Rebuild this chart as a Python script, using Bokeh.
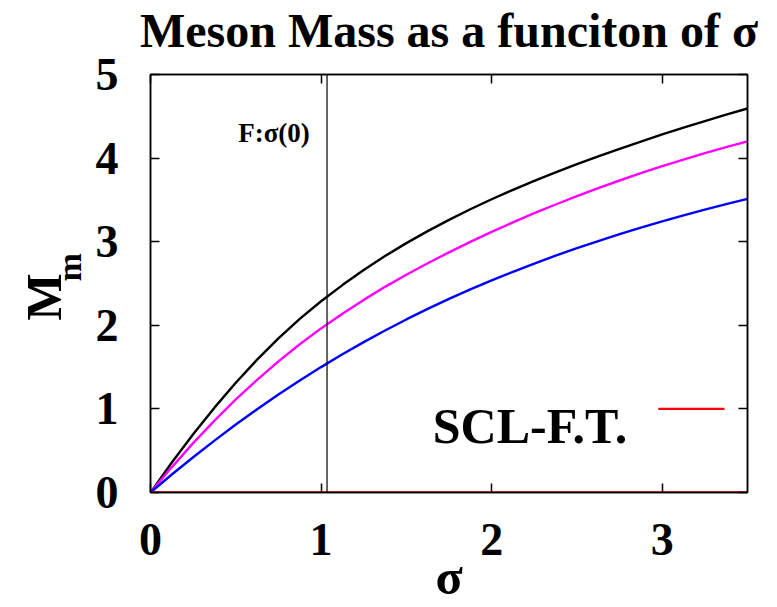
from bokeh.plotting import figure
from bokeh.models import Range1d, LinearAxis, Label, FixedTicker, Span, Title
from bokeh.embed import file_html
from bokeh.resources import INLINE

sigma = [0.0, 0.125, 0.25, 0.375, 0.5, 0.625, 0.75, 0.875, 1.0, 1.125, 1.25, 1.375, 1.5, 1.625,
         1.75, 1.875, 2.0, 2.125, 2.25, 2.375, 2.5, 2.625, 2.75, 2.875, 3.0, 3.125, 3.25, 3.375, 3.5]
m_black = [0.0, 0.359, 0.697, 1.015, 1.313, 1.589, 1.844, 2.077, 2.288, 2.481, 2.661, 2.828, 2.983,
           3.126, 3.261, 3.388, 3.508, 3.620, 3.728, 3.830, 3.928, 4.021, 4.111, 4.198, 4.283,
           4.364, 4.443, 4.519, 4.593]
m_magenta = [0.0, 0.304, 0.591, 0.860, 1.113, 1.348, 1.569, 1.773, 1.963, 2.139, 2.304, 2.460, 2.605,
             2.742, 2.873, 2.998, 3.118, 3.231, 3.341, 3.445, 3.545, 3.641, 3.732, 3.819, 3.903,
             3.982, 4.059, 4.132, 4.200]
m_blue = [0.0, 0.215, 0.422, 0.621, 0.813, 0.996, 1.172, 1.340, 1.500, 1.653, 1.799, 1.938, 2.070,
          2.196, 2.316, 2.430, 2.538, 2.640, 2.739, 2.833, 2.923, 3.008, 3.090, 3.168, 3.243,
          3.314, 3.383, 3.449, 3.513]
scl_ft = [0.0] * len(sigma)
sigma0 = 1.035
legend_key_x = [2.977, 3.365]
legend_key_y = [1.0, 1.0]

x_ticks = [0, 1, 2, 3]
y_ticks = [0, 1, 2, 3, 4, 5]

FONT = "Liberation Serif"

p = figure(width=777, height=607, output_backend="svg", toolbar_location=None,
           x_range=Range1d(0, 3.5), y_range=Range1d(0, 5),
           min_border_left=150, min_border_right=30, min_border_top=73, min_border_bottom=115,
           background_fill_color="white", border_fill_color="white")
p.grid.visible = False
p.outline_line_color = "black"
p.outline_line_width = 1.5

for ax, ticks in ((p.xaxis[0], x_ticks), (p.yaxis[0], y_ticks)):
    ax.ticker = FixedTicker(ticks=ticks)
    ax.major_tick_in = 9
    ax.major_tick_out = 0
    ax.minor_tick_line_color = None
    ax.axis_line_color = "black"
    ax.axis_line_width = 1.5
    ax.major_tick_line_width = 1.5
    ax.major_label_text_font = FONT
    ax.major_label_text_font_style = "bold"
    ax.major_label_text_font_size = "46px"
    ax.major_label_text_color = "black"
p.xaxis[0].major_label_standoff = 31
p.yaxis[0].major_label_standoff = 32

p.xaxis[0].axis_label = "\u03c3"
p.xaxis[0].axis_label_text_font = FONT
p.xaxis[0].axis_label_text_font_style = "bold"
p.xaxis[0].axis_label_text_font_size = "50px"
p.xaxis[0].axis_label_text_color = "black"
p.xaxis[0].axis_label_standoff = -9

# top axis carries the chart title as its label
top = LinearAxis(ticker=FixedTicker(ticks=x_ticks), major_tick_in=9, major_tick_out=0,
                 minor_tick_line_color=None, major_label_text_font_size="0px",
                 axis_line_color="black", axis_line_width=1.5, major_tick_line_width=1.5,
                 major_label_standoff=0,
                 axis_label="Meson Mass as a funciton of \u03c3",
                 axis_label_text_font=FONT, axis_label_text_font_style="bold",
                 axis_label_text_font_size="48px", axis_label_text_color="black",
                 axis_label_standoff=18)
right = LinearAxis(ticker=FixedTicker(ticks=y_ticks), major_tick_in=9, major_tick_out=0,
                   minor_tick_line_color=None, major_label_text_font_size="0px",
                   axis_line_color="black", axis_line_width=1.5, major_tick_line_width=1.5,
                   major_label_standoff=0)
p.add_layout(top, "above")
p.add_layout(right, "right")

# y-axis label M with subscript m
t_m = Title(text="m", text_font=FONT, text_font_style="bold", text_font_size="34px",
            align="left", offset=211, standoff=10, text_color="black")
t_M = Title(text="M", text_font=FONT, text_font_style="bold", text_font_size="50px",
            align="left", offset=172, standoff=-57, text_color="black")
p.add_layout(t_m, "left")
p.add_layout(t_M, "left")

p.add_layout(Span(location=sigma0, dimension="height", line_color="black", line_width=1.2))

p.line(sigma, m_black, line_color="black", line_width=2.4)
p.line(sigma, m_magenta, line_color="#ff00ff", line_width=2.4)
p.line(sigma, m_blue, line_color="#0000ff", line_width=2.4)
p.line(sigma, scl_ft, line_color="#ee0000", line_width=2.4)
p.line(legend_key_x, legend_key_y, line_color="#ff0000", line_width=2.4)

def lab(text, x, y, size, align="left"):
    p.add_layout(Label(x=x, y=y, text=text, text_font=FONT, text_font_style="bold",
                       text_font_size=size, text_align=align, text_baseline="alphabetic",
                       text_color="black"))

lab("F:\u03c3(0)", 0.934, 4.30, "27px", align="right")
lab("SCL-F.T.", 2.795, 0.80, "50px", align="right")

open("out.html", "w").write(file_html(p, INLINE))
